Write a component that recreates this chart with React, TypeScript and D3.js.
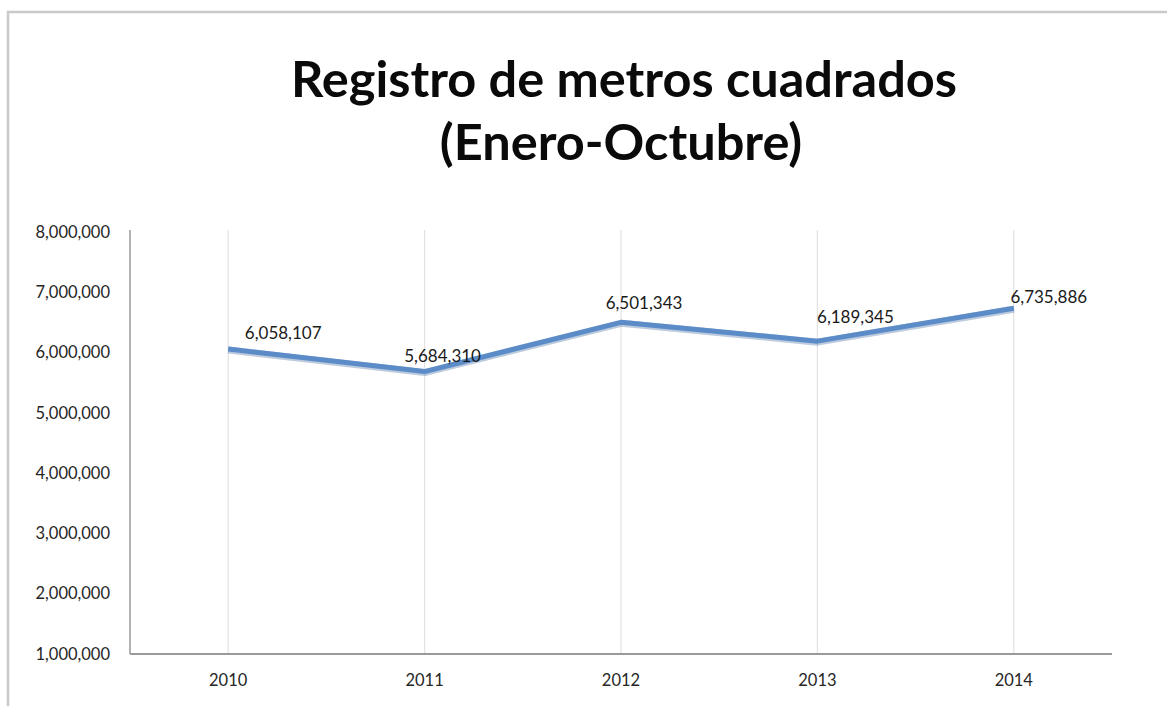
import React from "react";
import * as d3 from "d3";

const titleLines = ["Registro de metros cuadrados", "(Enero-Octubre)"];
const years = ["2010", "2011", "2012", "2013", "2014"];
const values = [6058107, 5684310, 6501343, 6189345, 6735886];
const yTicks = [1000000, 2000000, 3000000, 4000000, 5000000, 6000000, 7000000, 8000000];
// label placement nudges (style, relative to each point)
const labelNudges = [
  [55, -16],
  [18, -16],
  [23, -19],
  [38, -24],
  [35, -11],
];

const W = 1167;
const H = 706;
const FONT = "Lato, 'Open Sans', sans-serif";

export default function App() {
  const left = 130;
  const right = 1112;
  const top = 232;
  const bottom = 654;

  const x = d3.scaleBand<string>().domain(years).range([left, right]).padding(0);
  const cx = (d: string) => (x(d) as number) + x.bandwidth() / 2;
  const y = d3.scaleLinear().domain([1000000, 8000000]).range([bottom, top]);
  const fmt = d3.format(",");

  const line = d3
    .line<number>()
    .x((_, i) => cx(years[i]))
    .y((v) => y(v));

  return (
    <svg
      width={W}
      height={H}
      style={{ position: "absolute", left: 0, top: 0, background: "#fff" }}
      fontFamily={FONT}
    >
      <rect x={0} y={0} width={W} height={H} fill="#fff" />
      {/* frame */}
      <rect x={8} y={12} width={W + 20} height={H + 20} fill="none" stroke="#c9c9c9" strokeWidth={2.5} />

      {/* title */}
      <text x={624} y={97} textAnchor="middle" fontSize={50.5} fontWeight={700} fill="#0a0a0a">
        {titleLines[0]}
      </text>
      <text x={621} y={160} textAnchor="middle" fontSize={50.5} fontWeight={700} fill="#0a0a0a">
        {titleLines[1]}
      </text>

      {/* vertical gridlines */}
      {years.map((yr) => (
        <line key={yr} x1={cx(yr)} x2={cx(yr)} y1={top - 2} y2={bottom} stroke="#e2e2e2" strokeWidth={1.2} />
      ))}

      {/* axes */}
      <line x1={left} x2={left} y1={top - 2} y2={bottom} stroke="#9a9a9a" strokeWidth={1.5} />
      <line x1={left} x2={right} y1={bottom} y2={bottom} stroke="#9a9a9a" strokeWidth={1.8} />

      {/* y tick labels */}
      {yTicks.map((t) => (
        <text key={t} x={110} y={y(t)} dy="0.35em" textAnchor="end" fontSize={16.5} fill="#262626">
          {fmt(t)}
        </text>
      ))}

      {/* x tick labels */}
      {years.map((yr) => (
        <text key={yr} x={cx(yr)} y={680} dy="0.35em" textAnchor="middle" fontSize={16.5} fill="#262626">
          {yr}
        </text>
      ))}

      {/* series line */}
      <path d={line(values) || ""} fill="none" stroke="#3f6a9e" strokeOpacity={0.35} strokeWidth={7} strokeLinejoin="round" transform="translate(0,1)" />
      <path d={line(values) || ""} fill="none" stroke="#5b8cc8" strokeWidth={5} strokeLinejoin="round" strokeLinecap="butt" />

      {/* data labels */}
      {values.map((v, i) => (
        <text
          key={i}
          x={cx(years[i]) + labelNudges[i][0]}
          y={y(v) + labelNudges[i][1]}
          dy="0.35em"
          textAnchor="middle"
          fontSize={17}
          fill="#1a1a1a"
        >
          {fmt(v)}
        </text>
      ))}
    </svg>
  );
}
